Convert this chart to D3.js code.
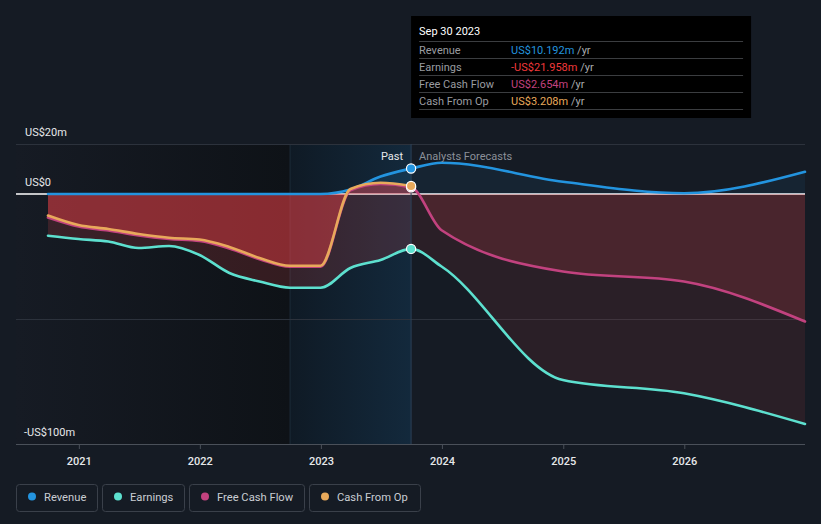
<!DOCTYPE html>
<html><head><meta charset="utf-8">
<script src="https://cdn.jsdelivr.net/npm/d3@7"></script>
<style>html,body{margin:0;padding:0;background:#151b24;} svg{display:block;font-family:Roboto,"Open Sans",sans-serif;}</style>
</head><body><svg id="chart" width="821" height="524"></svg>
<script>
// ---- data (US$ millions) ----
const pastDates = ["2020-09-30","2020-12-31","2021-03-31","2021-06-30","2021-09-30","2021-12-31","2022-03-31","2022-06-30","2022-09-30","2022-12-31","2023-03-31","2023-06-30","2023-09-30"];
const forecastDates = ["2023-12-31","2024-12-31","2025-12-31","2026-12-31"];
const revenuePast = [0,0,0,0,0,0,0,0,0,0,1.8,7.0,10.192];
const revenueForecast = [12.5,4.9,0.3,8.9];
const earningsPast = [-16.7,-18,-19,-21.6,-20.8,-24.4,-31.6,-35,-37.5,-37.5,-29.6,-26.4,-21.958];
const earningsForecast = [-29,-74.4,-79.7,-92];
const fcfPast = [-9.4,-13,-14.6,-16.6,-18,-18.8,-21.8,-26.1,-29.1,-29.1,1.5,4.0,2.654];
const fcfForecast = [-14.5,-31,-35,-51];
const cfoPast = [-8.6,-12.4,-14,-16,-17.5,-18.2,-21.2,-25.6,-28.7,-28.7,2.0,4.5,3.208];
const yLabelTicks = [20,0,-100];
const yLabelTexts = ["US$20m","US$0","-US$100m"];
const gridTicks = [20,-50];
const xTickYears = [2021,2022,2023,2024,2025,2026];
const seriesNames = ["Revenue","Earnings","Free Cash Flow","Cash From Op"];
const seriesColors = ["#2394df","#5de0cf","#c2427f","#e8a95b"];
const tooltipTitle = "Sep 30 2023";
const tooltipValues = ["US$10.192m","-US$21.958m","US$2.654m","US$3.208m"];
const tooltipValueColors = ["#2394df","#f0393b","#c2427f","#e8a95b"];

const parse = d3.timeParse("%Y-%m-%d");
const svg = d3.select("#chart");
const x = d3.scaleTime().domain([parse("2020-09-30"), parse("2026-12-31")]).range([48, 805]);
const y = d3.scaleLinear().domain([-100, 20]).range([444, 144]);
const nowDate = parse("2023-09-30");
const xNow = x(nowDate);
const xHi = x(parse("2022-09-30"));
const yTop = y(20), yBot = y(-100), y0 = y(0);
const left = 16, right = 805;

const mk = (dates, vals) => dates.map((d,i)=>({date: parse(d), v: vals[i]}));
const revenue = mk(pastDates.concat(forecastDates), revenuePast.concat(revenueForecast));
const earnings = mk(pastDates.concat(forecastDates), earningsPast.concat(earningsForecast));
const fcf = mk(pastDates.concat(forecastDates), fcfPast.concat(fcfForecast));
const cfo = mk(pastDates, cfoPast);

const defs = svg.append("defs");
const g1 = defs.append("linearGradient").attr("id","darkGrad").attr("x1","0").attr("x2","1").attr("y1","0").attr("y2","0");
g1.append("stop").attr("offset","0").attr("stop-color","#161b24");
g1.append("stop").attr("offset","1").attr("stop-color","#0e1217");
const g2 = defs.append("linearGradient").attr("id","hiGrad").attr("x1","0").attr("x2","1").attr("y1","0").attr("y2","0");
g2.append("stop").attr("offset","0").attr("stop-color","#0f1a25");
g2.append("stop").attr("offset","1").attr("stop-color","#13293c");
defs.append("clipPath").attr("id","clipPast").append("rect").attr("x",0).attr("y",0).attr("width",xNow).attr("height",524);
defs.append("clipPath").attr("id","clipFut").append("rect").attr("x",xNow).attr("y",0).attr("width",821-xNow).attr("height",524);

// background
svg.append("rect").attr("width",821).attr("height",524).attr("fill","#151b24");
svg.append("rect").attr("x",left).attr("y",yTop).attr("width",xHi-left).attr("height",yBot-yTop).attr("fill","url(#darkGrad)");
svg.append("rect").attr("x",xHi).attr("y",yTop).attr("width",xNow-xHi).attr("height",yBot-yTop).attr("fill","url(#hiGrad)");
svg.append("line").attr("x1",xHi).attr("x2",xHi).attr("y1",yTop).attr("y2",yBot).attr("stroke","#1d2c39").attr("stroke-width",1);

// grid
svg.selectAll("line.grid").data(gridTicks).join("line").attr("class","grid")
  .attr("x1",left).attr("x2",right).attr("y1",d=>Math.round(y(d))+0.5).attr("y2",d=>Math.round(y(d))+0.5)
  .attr("stroke","#2c323c").attr("stroke-width",1);
// zero line
svg.append("line").attr("x1",left).attr("x2",right).attr("y1",y0).attr("y2",y0).attr("stroke","#ffffff").attr("stroke-width",1.3);

// areas
const area = d3.area().x(d=>x(d.date)).y0(y0).y1(d=>y(d.v)).curve(d3.curveMonotoneX);
const line = d3.line().x(d=>x(d.date)).y(d=>y(d.v)).curve(d3.curveMonotoneX);
const fills = [
  {clip:"clipPast", data:revenue, color:"rgb(35,148,223)", op:0.12},
  {clip:"clipFut", data:revenue, color:"rgb(35,148,223)", op:0.08},
  {clip:"clipPast", data:earnings, color:"rgb(255,80,82)", op:0.16},
  {clip:"clipFut", data:earnings, color:"rgb(255,75,80)", op:0.09},
  {clip:"clipPast", data:fcf, color:"rgb(255,66,72)", op:0.41},
  {clip:"clipFut", data:fcf, color:"rgb(255,76,80)", op:0.15}
];
fills.forEach(f=>{
  svg.append("path").datum(f.data).attr("d",area).attr("fill",f.color).attr("fill-opacity",f.op).attr("clip-path",`url(#${f.clip})`);
});

// now line
svg.append("line").attr("x1",xNow).attr("x2",xNow).attr("y1",yTop).attr("y2",yBot).attr("stroke","#2b4156").attr("stroke-width",1);

// lines
[[revenue,0],[earnings,1],[fcf,2],[cfo,3]].forEach(([data,i])=>{
  svg.append("path").datum(data).attr("d",line).attr("fill","none").attr("stroke",seriesColors[i]).attr("stroke-width",2.6).attr("stroke-linecap","round");
});

// dots at now
[[revenuePast,0],[earningsPast,1],[fcfPast,2],[cfoPast,3]].forEach(([vals,i])=>{
  svg.append("circle").attr("cx",xNow).attr("cy",y(vals[vals.length-1])).attr("r",4.6)
    .attr("fill",seriesColors[i]).attr("stroke","#ffffff").attr("stroke-width",1.2);
});

// Past / forecast labels
svg.append("text").attr("x",xNow-8).attr("y",160).attr("text-anchor","end").attr("font-size",11).attr("fill","#e6e8ea").text("Past");
svg.append("text").attr("x",xNow+8).attr("y",160).attr("font-size",11).attr("fill","#8b9099").text("Analysts Forecasts");

// y labels
svg.selectAll("text.ylab").data(yLabelTicks).join("text").attr("class","ylab")
  .attr("x",(d,i)=> i===2?24:25).attr("y",d=>y(d)-8).attr("font-size",11).attr("fill","#e6e8ea")
  .text((d,i)=>yLabelTexts[i]);

// x axis
const xAxis = d3.axisBottom(x).tickValues(xTickYears.map(yr=>new Date(yr,0,1))).tickFormat(d3.timeFormat("%Y")).tickSize(5).tickSizeOuter(0);
const ax = svg.append("g").attr("transform",`translate(0,${yBot})`).call(xAxis);
ax.select(".domain").remove();
ax.selectAll(".tick line").attr("stroke","#4a5059");
ax.selectAll(".tick text").attr("font-size",11).attr("fill","#e6e8ea").attr("font-weight",500).attr("dy","1.15em").attr("font-family","Roboto,sans-serif");
svg.append("line").attr("x1",left).attr("x2",right).attr("y1",yBot+0.5).attr("y2",yBot+0.5).attr("stroke","#4a5059").attr("stroke-width",1);

// legend
const legendX = [16,102,189,309];
const legendW = [81,82,115,111];
const lg = svg.append("g");
seriesNames.forEach((n,i)=>{
  const g = lg.append("g").attr("transform",`translate(${legendX[i]},484)`);
  g.append("rect").attr("x",0.5).attr("y",0.5).attr("width",legendW[i]).attr("height",27).attr("rx",3).attr("fill","none").attr("stroke","#3a404a");
  g.append("circle").attr("cx",16).attr("cy",12.5).attr("r",4).attr("fill",seriesColors[i]);
  g.append("text").attr("x",28).attr("y",16.5).attr("font-size",11.2).attr("fill","#c9cdd3").text(n);
});

// tooltip
const tt = svg.append("g").attr("transform",`translate(${xNow},16)`);
tt.append("rect").attr("width",340).attr("height",102).attr("fill","#000000");
tt.append("text").attr("x",8).attr("y",19).attr("font-size",11).attr("fill","#ffffff").text(tooltipTitle);
const rowY = [25.5,42.5,59.5,76.5,93.5];
rowY.forEach(ry=>tt.append("line").attr("x1",8).attr("x2",332).attr("y1",ry).attr("y2",ry).attr("stroke","#3b3d40").attr("stroke-width",1));
seriesNames.forEach((n,i)=>{
  const ty = rowY[i]+12.5;
  tt.append("text").attr("x",8).attr("y",ty).attr("font-size",11).attr("fill","#9a9ca0").text(n);
  const t = tt.append("text").attr("x",100).attr("y",ty).attr("font-size",11);
  t.append("tspan").attr("fill",tooltipValueColors[i]).text(tooltipValues[i]);
  t.append("tspan").attr("fill","#a9abae").text(" /yr");
});
</script></body></html>
